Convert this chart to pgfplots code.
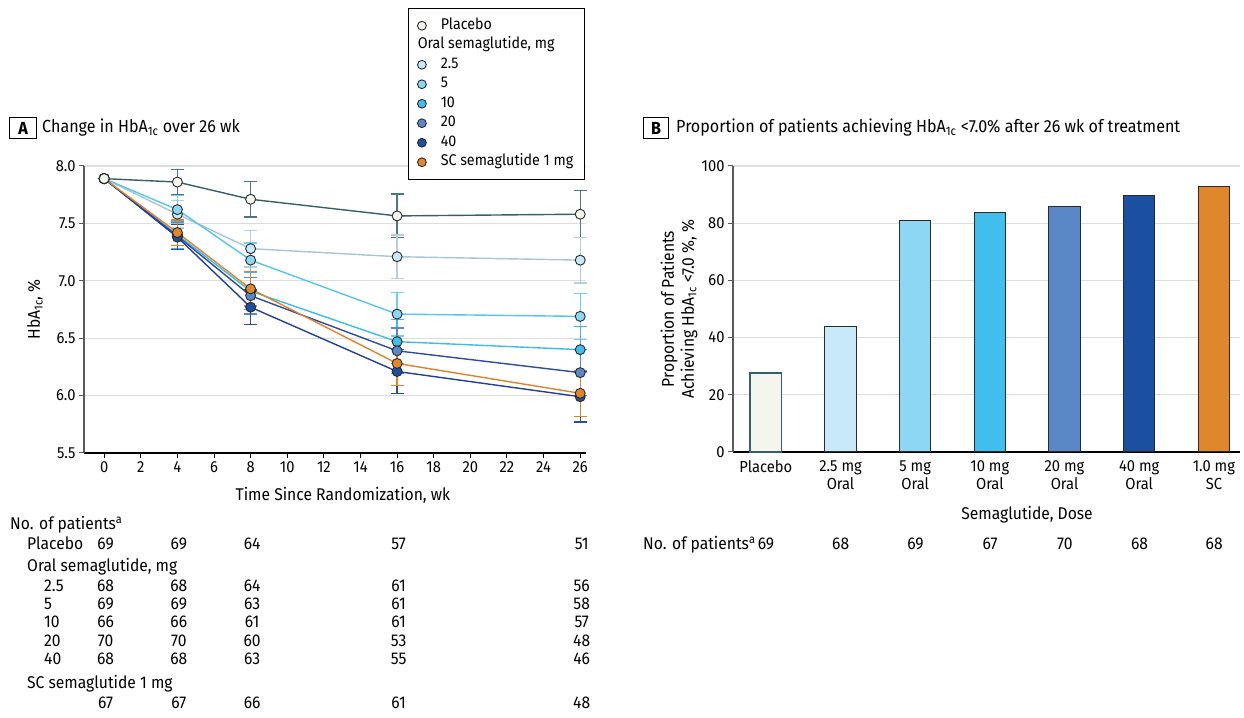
\documentclass[border=0pt]{standalone}
\usepackage{pgfplots}
\pgfplotsset{compat=1.18}
\usepackage{fontspec}
\setmainfont{Fira Sans}[FakeStretch=0.92]

\definecolor{gridc}{HTML}{DDDDDD}
\definecolor{axc}{HTML}{5A5A5A}
\definecolor{mk}{HTML}{2A2A2A}
% placebo
\definecolor{plL}{HTML}{35606B}
\definecolor{plF}{HTML}{F4F6EE}
\definecolor{plE}{HTML}{4F7680}
% oral 2.5 / 5 / 10 / 20 / 40
\definecolor{aL}{HTML}{A9C4D3}
\definecolor{aF}{HTML}{C8E9F8}
\definecolor{aE}{HTML}{B7CFDB}
\definecolor{bL}{HTML}{52C6EE}
\definecolor{bF}{HTML}{8DD7F5}
\definecolor{bE}{HTML}{6CCFF2}
\definecolor{cL}{HTML}{3BBCEC}
\definecolor{cF}{HTML}{40BEED}
\definecolor{cE}{HTML}{3FB8E8}
\definecolor{dL}{HTML}{2D4C9E}
\definecolor{dF}{HTML}{5A88C6}
\definecolor{dE}{HTML}{5A88C6}
\definecolor{eL}{HTML}{22409A}
\definecolor{eF}{HTML}{1B4F9F}
\definecolor{eE}{HTML}{2B4E9E}
% sc
\definecolor{sL}{HTML}{E0822A}
\definecolor{sF}{HTML}{E0862C}

\newcommand\fticks{\fontsize{16}{18}\selectfont}
\newcommand\flab{\fontsize{17}{20}\selectfont}
\newcommand\ftab{\fontsize{17}{20}\selectfont}
\newcommand\fleg{\fontsize{15.5}{18}\selectfont}
\newcommand\ftitle{\fontsize{17.5}{20}\selectfont}

\pgfplotsset{
  ser/.style n args={3}{
    color=#1, line width=1.4pt, mark=*, mark size=5pt,
    mark options={fill=#2, draw=mk, line width=0.9pt, solid},
    error bars/.cd, y dir=both, y explicit,
    error bar style={color=#3, line width=1.3pt},
    error mark options={rotate=90, color=#3, line width=1.3pt, mark size=6.5pt},
  },
  bstyle/.style={fill=#1, draw=mk, line width=1pt},
}

\begin{document}
\begin{tikzpicture}
\path[use as bounding box] (0pt,0pt) rectangle (1244pt,717pt);

% ---------- panel A ----------
\node[draw, line width=1pt, minimum width=27pt, minimum height=21pt, inner sep=0pt, font=\ftitle\bfseries] at (23pt,589pt) {A};
\node[anchor=base west, inner sep=0pt, font=\ftitle] at (42pt,584pt) {Change in HbA\textsubscript{1c} over 26 wk};

\begin{axis}[
  at={(84pt,264pt)}, anchor=south west,
  scale only axis, width=501.7pt, height=287pt,
  xmin=-1.1, xmax=26.3, ymin=5.5, ymax=8.0,
  axis x line*=bottom, axis y line*=left,
  xtick={0,2,...,26}, ytick={5.5,6.0,6.5,7.0,7.5,8.0},
  yticklabel style={/pgf/number format/.cd, fixed, fixed zerofill, precision=1},
  /pgf/number format/assume math mode=true,
  tick label style={font=\fticks},
  tick align=outside, major tick length=5pt,
  x tick style={black, line width=1pt},
  y tick style={axc, line width=1pt},
  ymajorgrids, grid style={gridc, line width=1.3pt},
  x axis line style={black, line width=1.1pt},
  y axis line style={axc, line width=1.2pt},
  xlabel={Time Since Randomization, wk},
  ylabel={HbA\textsubscript{1c}, \%},
  every axis x label/.style={at={(axis description cs:0.516,-0.146)}, anchor=center, font=\flab},
  every axis y label/.style={at={(axis description cs:-0.0977,0.5)}, anchor=center, rotate=90, font=\flab},
  clip=false,
  legend image code/.code={\draw[#1, mark size=4.4pt] plot coordinates {(0pt,0pt)};},
  legend cell align=left,
  legend style={at={(axis description cs:0.6458,1.5505)}, anchor=north west,
    draw=black, line width=1pt, fill=white, font=\fleg,
    inner xsep=9pt, inner ysep=7.5pt, row sep=0pt,
    nodes={text height=11pt, text depth=3.5pt, inner sep=2.5pt},
    /tikz/every odd column/.style={column sep=12pt}},
]
\addplot[ser={plL}{plF}{plE}] coordinates {
  (0,7.89) +- (0,0) (4,7.86) +- (0,0.11) (8,7.71) +- (0,0.155)
  (16,7.565) +- (0,0.19) (26,7.58) +- (0,0.205)};
\addlegendentry{Placebo}
\addlegendimage{empty legend}
\addlegendentry{\hspace*{-23pt}Oral semaglutide, mg}
\addplot[ser={aL}{aF}{aE}] coordinates {
  (0,7.89) +- (0,0) (4,7.58) +- (0,0.12) (8,7.28) +- (0,0.16)
  (16,7.21) +- (0,0.19) (26,7.18) +- (0,0.20)};
\addlegendentry{2.5}
\addplot[ser={bL}{bF}{bE}] coordinates {
  (0,7.89) +- (0,0) (4,7.62) +- (0,0.12) (8,7.18) +- (0,0.15)
  (16,6.71) +- (0,0.19) (26,6.69) +- (0,0.20)};
\addlegendentry{5}
\addplot[ser={cL}{cF}{cE}] coordinates {
  (0,7.89) +- (0,0) (4,7.40) +- (0,0.12) (8,6.91) +- (0,0.16)
  (16,6.47) +- (0,0.19) (26,6.40) +- (0,0.20)};
\addlegendentry{10}
\addplot[ser={dL}{dF}{dE}] coordinates {
  (0,7.89) +- (0,0) (4,7.39) +- (0,0.12) (8,6.87) +- (0,0.16)
  (16,6.39) +- (0,0.20) (26,6.20) +- (0,0.20)};
\addlegendentry{20}
\addplot[ser={eL}{eF}{eE}] coordinates {
  (0,7.89) +- (0,0) (4,7.38) +- (0,0.11) (8,6.77) +- (0,0.15)
  (16,6.21) +- (0,0.19) (26,5.99) +- (0,0.22)};
\addlegendentry{40}
\addplot[ser={sL}{sF}{sL}] coordinates {
  (0,7.89) +- (0,0) (4,7.42) +- (0,0.11) (8,6.93) +- (0,0.15)
  (16,6.28) +- (0,0.19) (26,6.02) +- (0,0.20)};
\addlegendentry{SC semaglutide 1 mg}
% placebo baseline marker on top
\addplot[forget plot, only marks, mark=*, mark size=5pt,
  mark options={fill=plF, draw=mk, line width=0.9pt}] coordinates {(0,7.89)};
\end{axis}

% number of patients, panel A (columns at weeks 0, 4, 8, 16, 26)
\begin{scope}[every node/.style={inner sep=0pt, font=\ftab}]
\node[anchor=base west] at (10pt,187pt) {No. of patients\textsuperscript{a}};
\node[anchor=base west] at (27pt,167pt) {Placebo};
\node[anchor=base west] at (27pt,145pt) {Oral semaglutide, mg};
\node[anchor=base west] at (44pt,125pt) {2.5};
\node[anchor=base west] at (44pt,107pt) {5};
\node[anchor=base west] at (44pt,89pt) {10};
\node[anchor=base west] at (44pt,70pt) {20};
\node[anchor=base west] at (44pt,52pt) {40};
\node[anchor=base west] at (27pt,28pt) {SC semaglutide 1 mg};
\foreach \yy/\a/\b/\c/\d/\e in {167/69/69/64/57/51, 125/68/68/64/61/56,
    107/69/69/63/61/58, 89/66/66/61/61/57, 70/70/70/60/53/48,
    52/68/68/63/55/46, 9/67/67/66/61/48}{
  \node[anchor=base] at (105.6pt,\yy pt) {\a};
  \node[anchor=base] at (178.8pt,\yy pt) {\b};
  \node[anchor=base] at (252.1pt,\yy pt) {\c};
  \node[anchor=base] at (398.6pt,\yy pt) {\d};
  \node[anchor=base] at (581.7pt,\yy pt) {\e};
}
\end{scope}

% ---------- panel B ----------
\node[draw, line width=1pt, minimum width=25pt, minimum height=21pt, inner sep=0pt, font=\ftitle\bfseries] at (656pt,589pt) {B};
\node[anchor=base west, inner sep=0pt, font=\ftitle] at (676pt,584pt) {Proportion of patients achieving HbA\textsubscript{1c} <7.0\% after 26 wk of treatment};

\begin{axis}[
  at={(733pt,265pt)}, anchor=south west,
  scale only axis, width=507pt, height=286pt,
  xmin=-0.44, xmax=6.35, ymin=0, ymax=100,
  axis x line*=bottom, axis y line*=left,
  xtick={0,...,6}, ytick={0,20,...,100},
  xticklabels={Placebo,{2.5 mg\\Oral},{5 mg\\Oral},{10 mg\\Oral},{20 mg\\Oral},{40 mg\\Oral},{1.0 mg\\SC}},
  xticklabel style={align=center, font=\fticks},
  /pgf/number format/assume math mode=true,
  tick label style={font=\fticks},
  tick align=outside, major tick length=5pt,
  x tick style={draw=none},
  y tick style={axc, line width=1pt},
  ymajorgrids, grid style={gridc, line width=1.3pt},
  x axis line style={black, line width=1.1pt},
  y axis line style={axc, line width=1.2pt},
  xlabel={Semaglutide, Dose},
  ylabel={Proportion of Patients\\Achieving HbA\textsubscript{1c} <7.0 \%, \%},
  every axis x label/.style={at={(axis description cs:0.58,-0.22)}, anchor=center, font=\flab},
  every axis y label/.style={at={(axis description cs:-0.1065,0.5)}, anchor=center, rotate=90, align=center, font=\flab},
  ybar, bar width=31.5pt, bar shift=0pt,
  clip=false,
]
\addplot[bstyle=plF, draw=plL, line width=1.7pt] coordinates {(0,27.6)};
\addplot[bstyle=aF] coordinates {(1,44.0)};
\addplot[bstyle=bF] coordinates {(2,81.0)};
\addplot[bstyle=cF] coordinates {(3,83.6)};
\addplot[bstyle=dF] coordinates {(4,85.7)};
\addplot[bstyle=eF] coordinates {(5,89.8)};
\addplot[bstyle=sF] coordinates {(6,92.7)};
\end{axis}

\begin{scope}[every node/.style={inner sep=0pt, font=\ftab}]
\node[anchor=base west] at (643pt,167pt) {No. of patients\textsuperscript{a}};
\foreach \n/\xx in {69/766,68/840.7,69/915.4,67/990.1,70/1064.8,68/1139.5,68/1214.2}{
  \node[anchor=base] at (\xx pt,167pt) {\n};
}
\end{scope}
\end{tikzpicture}
\end{document}
